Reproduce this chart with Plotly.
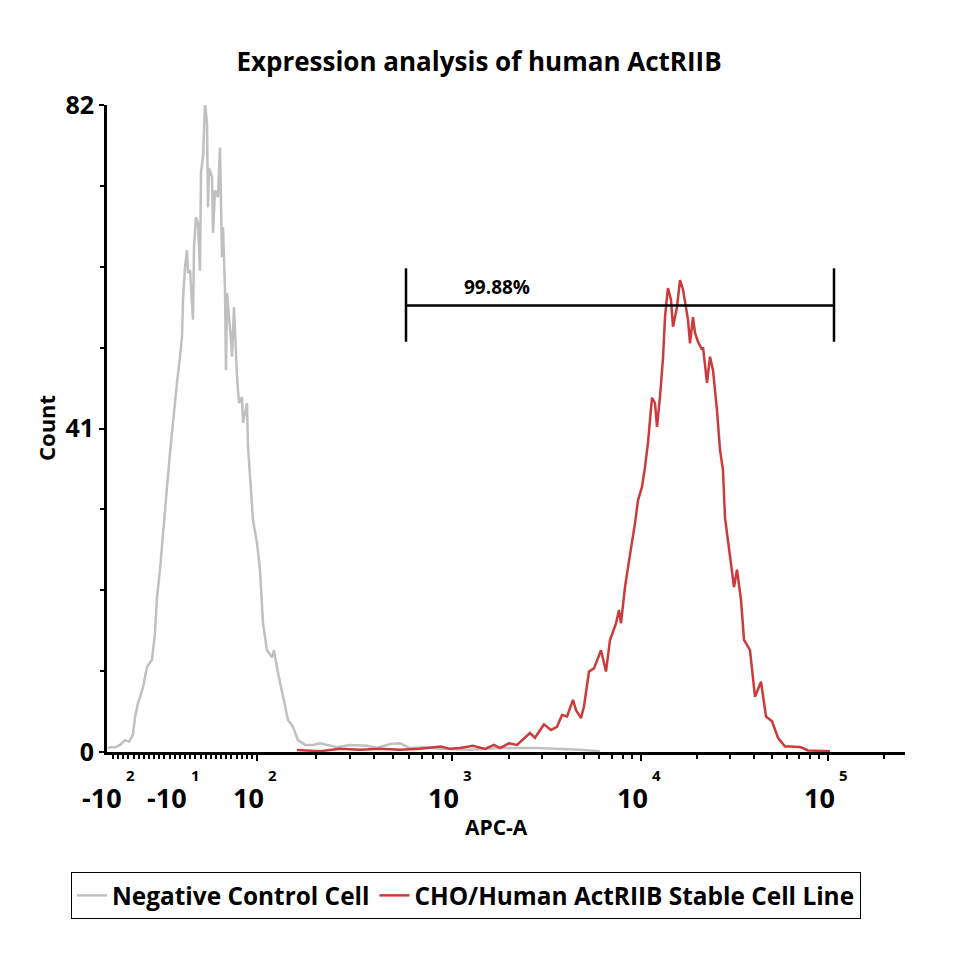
import numpy as np
import plotly.graph_objects as go

# ---------------- text ----------------
title = "Expression analysis of human ActRIIB"
x_title = "APC-A"
y_title = "Count"
series_names = ["Negative Control Cell", "CHO/Human ActRIIB Stable Cell Line"]
gate_label = "99.88%"

# ---------------- axis scale (display channels of the biexponential APC-A axis) ----------------
decade_exponents = [2, 3, 4, 5]
decade_channels = [150, 345, 534, 721]
neg_label_exponents = [2, 1]
neg_label_channels = [8, 73]
y_ticks = [0, 41, 82]
gate_range = [299, 727]

# ---------------- histogram data (display channel, count) ----------------
neg_x = [1, 3, 8, 13, 18, 22, 26, 28, 31, 36, 40, 45, 48, 50, 53, 56, 60, 63, 66, 70,
         73, 75, 76, 78, 80, 81, 83, 86, 87, 89, 91, 93, 94, 96, 98, 100, 101, 102, 105,
         106, 108, 111, 113, 115, 116, 118, 119, 120, 124, 125, 127, 130, 132, 135, 136,
         140, 141, 143, 146, 150, 153, 156, 160, 165, 167, 171, 176, 181, 186, 191, 198,
         206, 213, 230, 243, 260, 270, 283, 293, 303, 316, 333, 363, 393, 430, 456, 473,
         493]
neg_count = [0.5, 0.6, 0.6, 0.9, 1.5, 1.3, 2.2, 4.4, 6.2, 8.2, 10.8, 11.7, 15.1, 19.6,
             23.1, 27.2, 33.6, 37.9, 42.1, 46.8, 50.1, 52.6, 57.3, 61.5, 63.6, 60.7, 61.1,
             54.8, 64.0, 67.8, 67.0, 61.0, 73.5, 75.4, 82.2, 79.7, 69.0, 74.0, 72.9, 65.8,
             71.2, 70.3, 76.6, 62.7, 66.5, 58.5, 48.4, 58.2, 52.2, 50.1, 56.4, 47.5, 44.2,
             45.0, 41.7, 44.2, 38.7, 34.5, 29.4, 26.5, 23.1, 16.3, 12.9, 12.0, 12.9, 10.0,
             7.0, 4.1, 3.2, 1.5, 0.9, 0.9, 1.1, 0.6, 0.9, 0.8, 0.5, 1.0, 1.1, 0.5, 0.6,
             0.4, 0.3, 0.5, 0.5, 0.4, 0.3, 0.1]

pos_x = [190, 213, 233, 253, 273, 293, 313, 334, 343, 353, 366, 378, 387, 393, 402, 410,
         423, 428, 437, 444, 450, 455, 460, 466, 469, 474, 477, 482, 487, 494, 499, 503,
         509, 512, 514, 518, 521, 525, 528, 531, 535, 538, 541, 545, 548, 550, 553, 556,
         558, 560, 561, 564, 566, 570, 573, 576, 578, 581, 583, 586, 588, 591, 595, 596,
         600, 603, 606, 610, 613, 616, 618, 621, 627, 630, 634, 637, 643, 648, 654, 659,
         665, 671, 678, 684, 694, 701, 723]
pos_count = [0.25, 0.1, 0.4, 0.3, 0.4, 0.3, 0.4, 0.7, 0.4, 0.5, 0.8, 0.4, 0.9, 0.5, 1.1,
             0.9, 2.4, 1.8, 3.5, 2.8, 3.2, 4.7, 4.5, 6.6, 5.3, 4.3, 5.8, 10.2, 10.6, 12.9,
             10.2, 14.2, 16.3, 18.0, 16.3, 20.9, 23.4, 26.5, 29.0, 31.9, 33.6, 36.1, 39.2,
             44.9, 44.2, 41.2, 45.0, 49.9, 55.1, 57.7, 58.8, 57.3, 53.9, 56.4, 59.8, 58.6,
             56.9, 54.8, 51.8, 55.1, 53.1, 52.0, 51.0, 51.3, 46.8, 50.1, 48.4, 43.3, 38.3,
             35.7, 29.7, 26.9, 20.9, 23.1, 19.3, 14.2, 12.9, 7.0, 8.9, 4.5, 3.9, 1.8, 0.7,
             0.7, 0.6, 0.2, 0.1]

FONT = "Open Sans"
Y_MAX = 82
X_MAX = 798

# minor ticks on the x axis from the decade positions (log spacing within each decade)
minor_x = list(np.linspace(6, 145, 28))
for i in range(len(decade_channels)):
    lo = decade_channels[i]
    span = (decade_channels[i + 1] - lo) if i + 1 < len(decade_channels) else (decade_channels[i] - decade_channels[i - 1])
    for m in range(2, 10):
        v = lo + np.log10(m) * span
        if v <= X_MAX:
            minor_x.append(float(v))
minor_y = [Y_MAX / 8 * k for k in range(1, 8) if k != 4]

fig = go.Figure()
fig.add_trace(go.Scatter(x=neg_x, y=neg_count, mode="lines", name=series_names[0],
                         line=dict(color="#c0c0c0", width=2.5)))
fig.add_trace(go.Scatter(x=pos_x, y=pos_count, mode="lines", name=series_names[1],
                         line=dict(color="#cc3b3b", width=2.5)))

# gate bracket
gate_y, gate_lo, gate_hi = 56.6, 52.0, 61.3
shapes = [
    dict(type="line", x0=gate_range[0], x1=gate_range[1], y0=gate_y, y1=gate_y,
         line=dict(color="black", width=2.5)),
    dict(type="line", x0=gate_range[0], x1=gate_range[0], y0=gate_lo, y1=gate_hi,
         line=dict(color="black", width=2.5)),
    dict(type="line", x0=gate_range[1], x1=gate_range[1], y0=gate_lo, y1=gate_hi,
         line=dict(color="black", width=2.5)),
]

annotations = [
    dict(text=gate_label, x=390, y=58.9, xref="x", yref="y", showarrow=False,
         font=dict(family=FONT, size=19, color="black", weight="bold")),
    dict(text=x_title, x=(496 - 107) / X_MAX, y=(752 - 827) / 647, xref="paper", yref="paper",
         showarrow=False, yanchor="middle",
         font=dict(family=FONT, size=21, color="black", weight="bold")),
    dict(text=y_title, x=(46 - 107) / X_MAX, y=(752 - 428) / 647, xref="paper", yref="paper",
         showarrow=False, textangle=-90, xanchor="center", yanchor="middle",
         font=dict(family=FONT, size=22, color="black", weight="bold")),
]

base_y = (752 - 797) / 647
sup_y = (752 - 775) / 647


def add_tick_label(ch, base, exp):
    annotations.append(dict(text=base, x=ch + 8, y=base_y, xref="x", yref="paper",
                            xanchor="right", yanchor="middle", showarrow=False, borderpad=0,
                            font=dict(family=FONT, size=27, color="black", weight="bold")))
    annotations.append(dict(text=str(exp), x=ch + 10, y=sup_y, xref="x", yref="paper",
                            xanchor="left", yanchor="middle", showarrow=False, borderpad=0,
                            font=dict(family=FONT, size=15, color="black", weight="bold")))


for ch, e in zip(neg_label_channels, neg_label_exponents):
    add_tick_label(ch, "-10", e)
for ch, e in zip(decade_channels, decade_exponents):
    add_tick_label(ch, "10", e)

fig.update_layout(
    width=960, height=960, autosize=False,
    margin=dict(l=107, r=55, t=105, b=208),
    paper_bgcolor="white", plot_bgcolor="white",
    title=dict(text=title, x=0.499, xref="container", xanchor="center",
               y=1 - 62 / 960, yref="container", yanchor="middle",
               font=dict(family=FONT, size=26, color="black", weight="bold")),
    xaxis=dict(range=[0, X_MAX], showgrid=False, zeroline=False,
               showline=True, linecolor="black", linewidth=3,
               tickmode="array", tickvals=decade_channels, ticktext=[""] * len(decade_channels),
               ticks="outside", ticklen=6, tickwidth=2, tickcolor="black",
               minor=dict(tickmode="array", tickvals=minor_x, ticks="outside",
                          ticklen=4, tickwidth=2, tickcolor="black", showgrid=False),
               showticklabels=False, fixedrange=True),
    yaxis=dict(range=[0, Y_MAX], showgrid=False, zeroline=False,
               showline=True, linecolor="black", linewidth=3,
               tickmode="array", tickvals=y_ticks, ticks="outside", ticklen=5,
               tickwidth=2, tickcolor="black",
               minor=dict(tickmode="array", tickvals=minor_y, ticks="outside",
                          ticklen=4, tickwidth=2, tickcolor="black", showgrid=False),
               tickfont=dict(family=FONT, size=25, color="black", weight="bold"),
               fixedrange=True),
    legend=dict(orientation="h", x=(71 - 107) / X_MAX, y=(752 - 872) / 647,
                xanchor="left", yanchor="top", bordercolor="black", borderwidth=1,
                bgcolor="white",
                font=dict(family=FONT, size=24.4, color="black", weight="bold")),
    shapes=shapes,
    annotations=annotations,
    showlegend=True,
)

fig.write_html("out.html")
